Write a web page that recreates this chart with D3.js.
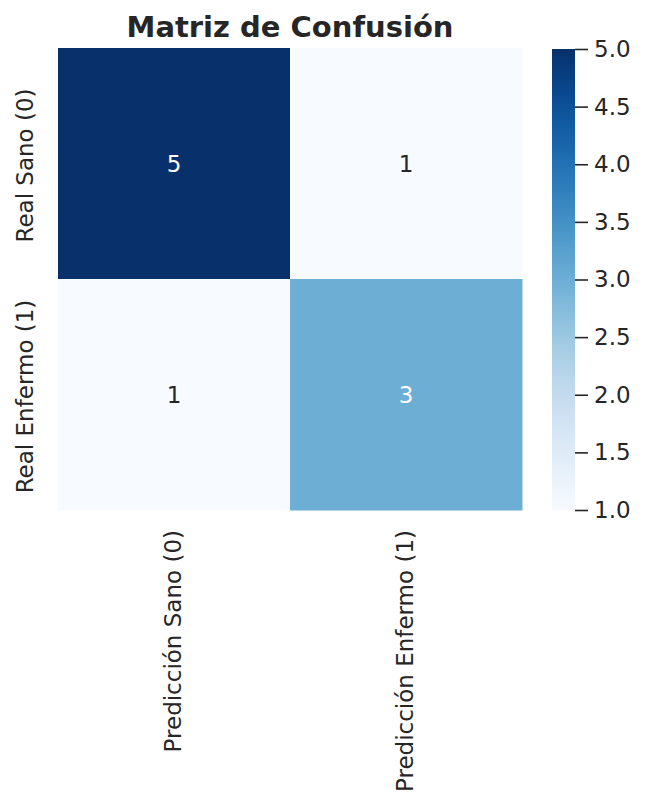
<!DOCTYPE html>
<html>
<head>
<meta charset="utf-8">
<script src="https://cdn.jsdelivr.net/npm/d3@7"></script>
<style>
  body { margin: 0; background: #fff; }
  svg { font-family: "DejaVu Sans", sans-serif; }
</style>
</head>
<body>
<svg id="chart" width="646" height="807"></svg>
<script>
// data
const rowLabels = ["Real Sano (0)", "Real Enfermo (1)"];
const colLabels = ["Predicción Sano (0)", "Predicción Enfermo (1)"];
const matrix = [
  [5, 1],
  [1, 3]
];
const cbTicks = [1.0, 1.5, 2.0, 2.5, 3.0, 3.5, 4.0, 4.5, 5.0];
const title = "Matriz de Confusión";

const margin = {top: 48, left: 58};
const hmW = 464, hmH = 462;
const fs = 23;

const svg = d3.select("#chart");

const x = d3.scaleBand().domain(d3.range(colLabels.length)).range([margin.left, margin.left + hmW]);
const y = d3.scaleBand().domain(d3.range(rowLabels.length)).range([margin.top, margin.top + hmH]);
const color = d3.scaleSequential(d3.interpolateBlues).domain([1, 5]);

const cells = [];
matrix.forEach((row, i) => row.forEach((v, j) => cells.push({i, j, v})));

svg.append("g").selectAll("rect")
  .data(cells)
  .enter().append("rect")
  .attr("x", d => x(d.j))
  .attr("y", d => y(d.i))
  .attr("width", x.bandwidth() + 0.5)
  .attr("height", y.bandwidth() + 0.5)
  .attr("fill", d => color(d.v));

svg.append("g").selectAll("text")
  .data(cells)
  .enter().append("text")
  .attr("x", d => x(d.j) + x.bandwidth() / 2)
  .attr("y", d => y(d.i) + y.bandwidth() / 2)
  .attr("text-anchor", "middle")
  .attr("dominant-baseline", "central")
  .attr("font-size", fs + "px")
  .attr("fill", d => d.v >= 3 ? "#ffffff" : "#262626")
  .text(d => d.v);

// row labels
svg.append("g").selectAll("text")
  .data(rowLabels)
  .enter().append("text")
  .attr("transform", (d, i) => `translate(33,${y(i) + y.bandwidth() / 2 + 2}) rotate(-90)`)
  .attr("text-anchor", "middle")
  .attr("font-size", fs + "px")
  .attr("fill", "#262626")
  .text(d => d);

// column labels
svg.append("g").selectAll("text")
  .data(colLabels)
  .enter().append("text")
  .attr("transform", (d, i) => `translate(${x(i) + x.bandwidth() / 2 + 6.5},530) rotate(-90)`)
  .attr("text-anchor", "end")
  .attr("font-size", fs + "px")
  .attr("fill", "#262626")
  .text(d => d);

// title
svg.append("text")
  .attr("x", margin.left + hmW / 2)
  .attr("y", 37)
  .attr("text-anchor", "middle")
  .attr("font-size", "29px")
  .attr("font-weight", "bold")
  .attr("fill", "#262626")
  .text(title);

// colorbar
const cbX = 552, cbW = 23;
const cbY = d3.scaleLinear().domain([1, 5]).range([margin.top + hmH, margin.top + 1]);

const grad = svg.append("defs").append("linearGradient")
  .attr("id", "cbgrad")
  .attr("x1", "0").attr("y1", "1").attr("x2", "0").attr("y2", "0");
d3.range(0, 1.0001, 0.02).forEach(t => {
  grad.append("stop")
    .attr("offset", t)
    .attr("stop-color", d3.interpolateBlues(t));
});

svg.append("rect")
  .attr("x", cbX)
  .attr("y", cbY(5))
  .attr("width", cbW)
  .attr("height", cbY(1) - cbY(5))
  .attr("fill", "url(#cbgrad)");

const cbAxis = svg.append("g")
  .attr("transform", `translate(${cbX + cbW},0)`)
  .call(d3.axisRight(cbY).tickValues(cbTicks).tickFormat(d3.format(".1f")).tickSize(13).tickPadding(6));

cbAxis.select(".domain").remove();
cbAxis.selectAll(".tick line").attr("stroke", "#262626").attr("stroke-width", 1.6);
cbAxis.selectAll(".tick text")
  .attr("font-size", fs + "px")
  .attr("font-family", "DejaVu Sans, sans-serif")
  .attr("fill", "#262626");
</script>
</body>
</html>
